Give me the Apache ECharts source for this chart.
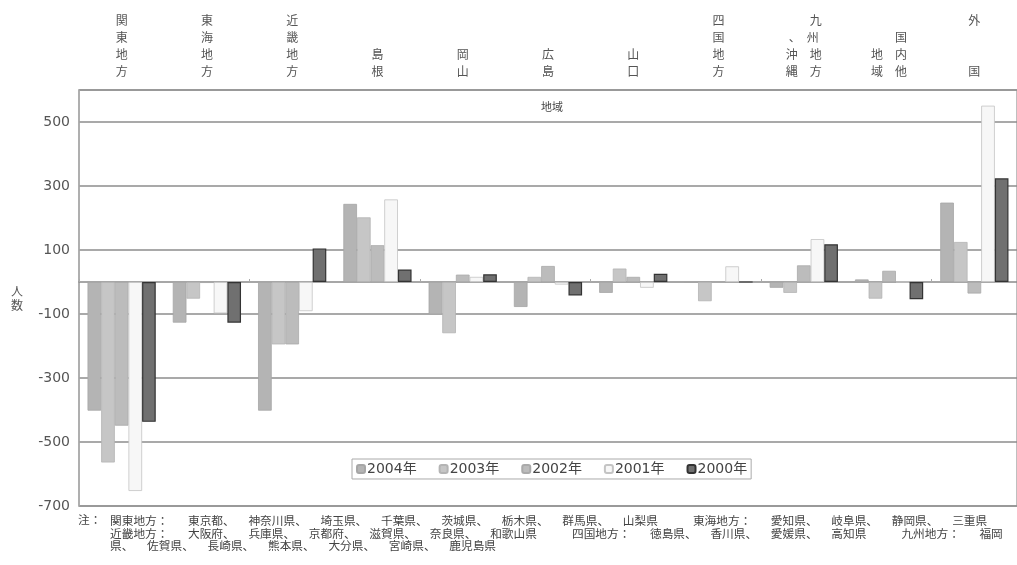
<!DOCTYPE html>
<html>
<head>
<meta charset="utf-8">
<script src="https://cdn.jsdelivr.net/npm/echarts@6/dist/echarts.min.js"></script>
<style>
html,body{margin:0;padding:0;background:#fff;}
#chart{width:1017px;height:565px;}
</style>
</head>
<body>
<div id="chart"></div>
<script>
const categories = ['関東地方','東海地方','近畿地方','島根','岡山','広島','山口','四国地方','九州地方、沖縄','国内他地域','外国'];
const topLabels = [
  '関\n東\n地\n方',
  '東\n海\n地\n方',
  '近\n畿\n地\n方',
  '島\n根',
  '岡\n山',
  '広\n島',
  '山\n口',
  '四\n国\n地\n方',
  '　　九\n、　州\n沖　地\n縄　方',
  '　　国\n地　内\n域　他',
  '外\n\n\n国'
];
const years = ['2004年','2003年','2002年','2001年','2000年'];
const v2004 = [-402, -127, -402, 244, -101, -78, -34, 0, -18, 8, 248];
const v2003 = [-564, -52, -195, 202, -160, 16, 42, -60, -34, -52, 125];
const v2002 = [-449, -3, -195, 115, 23, 50, 16, 0, 52, 35, -36];
const v2001 = [-653, -98, -91, 258, 16, -8, -18, 49, 134, 0, 551];
const v2000 = [-437, -127, 105, 39, 24, -42, 26, 0, 118, -54, 324];
const seriesValues = [v2004, v2003, v2002, v2001, v2000];
const noteHead = '注：';
const noteLines = [
  '関東地方：　   東京都、　   神奈川県、　   埼玉県、　   千葉県、　   茨城県、　   栃木県、　   群馬県、　   山梨県　　　東海地方：　   愛知県、　   岐阜県、　   静岡県、　   三重県',
  '近畿地方：　   大阪府、　   兵庫県、　   京都府、　   滋賀県、　   奈良県、　   和歌山県　　　四国地方：　   徳島県、　   香川県、　   愛媛県、　   高知県　　　九州地方：　   福岡',
  '県、　   佐賀県、　   長崎県、　   熊本県、　   大分県、　   宮崎県、　   鹿児島県'
];

const fills = ['#b4b4b4','#c6c6c6','#bcbcbc','#f7f7f7','#707070'];
const borders = ['#a6a6a6','#b4b4b4','#aaaaaa','#c4c4c4','#333333'];
const numFont = 'DejaVu Sans, "Noto Sans CJK JP", sans-serif';
const cjkFont = '"Noto Sans CJK JP", sans-serif';

const chart = echarts.init(document.getElementById('chart'));
chart.setOption({
  animation: false,
  backgroundColor: '#fff',
  title: {
    text: '地域',
    left: 536, top: 96,
    textStyle: {fontSize: 11, fontWeight: 'normal', color: '#444', fontFamily: cjkFont}
  },
  legend: {
    data: years,
    left: 352, top: 459,
    width: 420,
    borderColor: '#aaa', borderWidth: 1,
    padding: [3, 4],
    itemWidth: 8, itemHeight: 8, itemGap: 22,
    textStyle: {fontSize: 14, color: '#444', fontFamily: numFont, padding: [0, 0, 0, -3]}
  },
  grid: {left: 79, right: -6, top: 90, bottom: 59, show: true, borderColor: '#aaa', borderWidth: 1.5},
  xAxis: [
    {
      type: 'category', data: categories, position: 'bottom',
      axisLine: {onZero: true, lineStyle: {color: '#8a8a8a', width: 1.5}},
      axisTick: {show: true, inside: true, length: 3, lineStyle: {color: '#aaa'}},
      axisLabel: {show: false},
      splitLine: {show: false}
    },
    {
      type: 'category', data: categories, position: 'top',
      axisLine: {show: false, onZero: false},
      axisTick: {show: false},
      axisLabel: {
        show: true, margin: 10, interval: 0,
        formatter: (v, i) => topLabels[i],
        fontSize: 12, lineHeight: 17, color: '#555', fontFamily: cjkFont
      }
    }
  ],
  yAxis: {
    type: 'value', min: -700, max: 600, interval: 200,
    name: '人\n数', nameLocation: 'middle', nameRotate: 0, nameGap: 56,
    nameTextStyle: {fontSize: 12, color: '#555', lineHeight: 14, fontFamily: cjkFont},
    axisLine: {show: true, lineStyle: {color: '#aaa', width: 1.5}},
    axisTick: {show: false},
    axisLabel: {margin: 9, fontSize: 14, color: '#555', fontFamily: numFont, showMaxLabel: false},
    splitLine: {show: true, lineStyle: {color: '#8c8c8c', width: 1.5}}
  },
  series: years.map((y, i) => ({
    name: y, type: 'bar', data: seriesValues[i],
    xAxisIndex: 0,
    barGap: '0%', barCategoryGap: '20%',
    itemStyle: {color: fills[i], borderColor: borders[i], borderWidth: i === 4 ? 1.2 : 0.8}
  })),
  graphic: [
    {type: 'text', left: 78, top: 514, style: {text: noteHead, fontSize: 11.7, fill: '#444', fontFamily: cjkFont}},
    {type: 'text', left: 110, top: 514, style: {text: noteLines.join('\n'), fontSize: 11.7, lineHeight: 12.8, fill: '#444', fontFamily: cjkFont}}
  ]
});
</script>
</body>
</html>
